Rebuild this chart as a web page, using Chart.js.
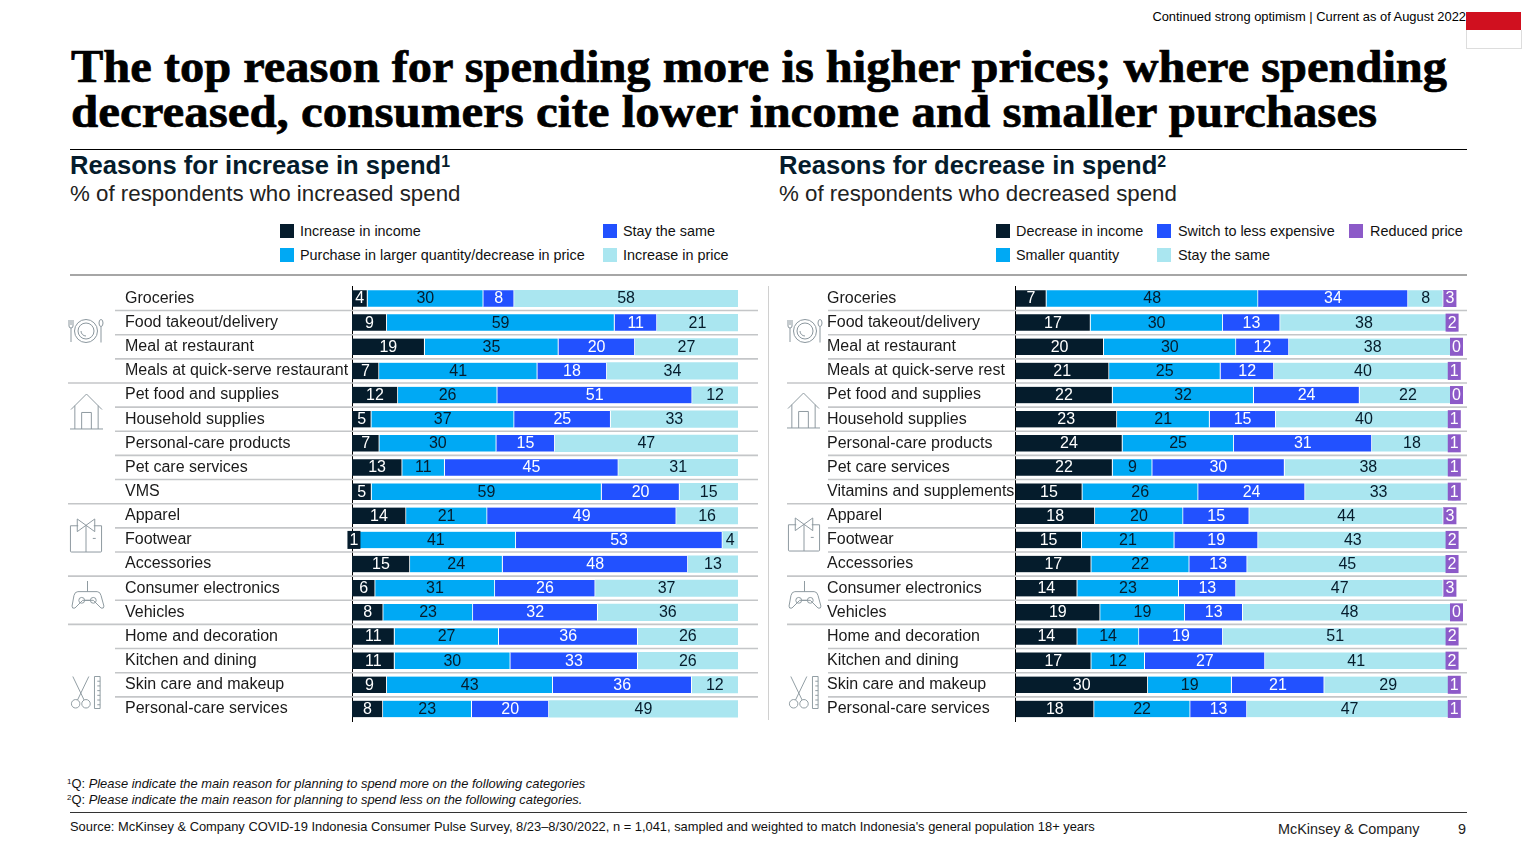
<!DOCTYPE html>
<html>
<head>
<meta charset="utf-8">
<script src="https://cdn.jsdelivr.net/npm/chart.js@4/dist/chart.umd.js"></script>
<style>
html,body{margin:0;padding:0;background:#fff;}
body{width:1536px;height:864px;position:relative;overflow:hidden;font-family:"Liberation Sans",Arial,sans-serif;color:#000;}
.t{position:absolute;white-space:nowrap;line-height:1;}
.r{position:absolute;}
canvas{position:absolute;}
sup{font-size:62%;line-height:0;vertical-align:baseline;position:relative;top:-0.45em;}
.title{left:71px;font-family:"Liberation Serif",serif;font-weight:700;font-size:46.5px;-webkit-text-stroke:0.7px #000;color:#000;transform-origin:left top;}
.h{font-weight:700;font-size:25.6px;color:#051C2C;}
.s{font-size:22.3px;color:#222;}
.lg{font-size:14.4px;color:#111;}
.sw{position:absolute;width:14px;height:14px;}
.fn{font-size:12.9px;font-style:italic;color:#111;}
svg.ic{position:absolute;fill:none;stroke:#8b979e;stroke-width:1;overflow:visible;}
</style>
</head>
<body>
<div class="t" style="right:70px;top:11px;font-size:12.9px;">Continued strong optimism | Current as of August 2022</div>
<div class="r" style="left:1466px;top:12px;width:55px;height:18px;background:#D0101F;"></div>
<div class="r" style="left:1466px;top:30px;width:54px;height:18px;background:#fff;border:1px solid #ddd;border-top:0;"></div>

<div class="t title" style="top:44px;transform:scaleX(1.0416);">The top reason for spending more is higher prices; where spending</div>
<div class="t title" style="top:89px;transform:scaleX(1.052);">decreased, consumers cite lower income and smaller purchases</div>
<div class="r" style="left:70px;top:149px;width:1397px;height:1px;background:#000;"></div>

<div class="t h" style="left:70px;top:153px;">Reasons for increase in spend<sup>1</sup></div>
<div class="t s" style="left:70px;top:183px;">% of respondents who increased spend</div>
<div class="t h" style="left:779px;top:153px;">Reasons for decrease in spend<sup>2</sup></div>
<div class="t s" style="left:779px;top:183px;">% of respondents who decreased spend</div>

<div id="legends"></div>
<div class="r" style="left:70px;top:274px;width:1397px;height:2px;background:#a6a6a6;"></div>
<div class="r" style="left:768px;top:286px;width:1px;height:434px;background:#d0d0d0;"></div>

<svg width="0" height="0" style="position:absolute">
<defs>
<symbol id="plate" viewBox="0 0 36 26" overflow="visible">
  <circle cx="18" cy="13" r="11.5"/><circle cx="18" cy="13" r="8"/><path d="M13 13a5 5 0 0 0 5 5"/>
  <path d="M1 2v6q0 2 2 2v14M3 2v5M5 2v6q0 2-2 2"/><ellipse cx="33" cy="5" rx="2" ry="3.5"/><path d="M33 8.500v16"/>
</symbol>
<symbol id="house" viewBox="0 0 34 38" overflow="visible">
  <path d="M1 17L17 1l16 16"/><path d="M5 13v24M29 13v24"/><path d="M12 37V20h10v17"/><path d="M0 37h34"/>
</symbol>
<symbol id="shirt" viewBox="0 0 34 36" overflow="visible">
  <path d="M1 8h8M25 8h8M1 8v26q0 1 1 1h30q1 0 1-1V8"/><path d="M8 1l18 13V1L8 14z"/><path d="M17 8v27M24 21h3"/>
</symbol>
<symbol id="pad" viewBox="0 0 36 30" overflow="visible">
  <path d="M18 0v11M8 11h20q3 0 4 4l3 11q0 3-3 2l-8-8H13l-8 8q-3 1-3-2l2-11q1-4 4-4z"/><circle cx="12" cy="20" r="3"/><circle cx="24" cy="20" r="3"/><path d="M15 20h6"/>
</symbol>
<symbol id="scis" viewBox="0 0 34 36" overflow="visible">
  <circle cx="6" cy="30" r="4.500"/><circle cx="17" cy="30" r="4.500"/><path d="M8 26L20 1M15 26L3 1"/><path d="M26 1h6v34h-6zM29 6h3M29 11h3M29 16h3M29 21h3M29 26h3M29 31h3"/>
</symbol>
</defs>
</svg>
<svg class="ic" style="left:68px;top:318px;width:36px;height:26px"><use href="#plate"/></svg>
<svg class="ic" style="left:70px;top:393px;width:33px;height:37px"><use href="#house"/></svg>
<svg class="ic" style="left:69px;top:518px;width:34px;height:35px"><use href="#shirt"/></svg>
<svg class="ic" style="left:70px;top:581px;width:35px;height:29px"><use href="#pad"/></svg>
<svg class="ic" style="left:70px;top:675px;width:32px;height:35px"><use href="#scis"/></svg>
<svg class="ic" style="left:787px;top:318px;width:36px;height:26px"><use href="#plate"/></svg>
<svg class="ic" style="left:787px;top:392px;width:33px;height:37px"><use href="#house"/></svg>
<svg class="ic" style="left:787px;top:517px;width:34px;height:35px"><use href="#shirt"/></svg>
<svg class="ic" style="left:787px;top:581px;width:35px;height:29px"><use href="#pad"/></svg>
<svg class="ic" style="left:788px;top:675px;width:32px;height:35px"><use href="#scis"/></svg>

<canvas id="inc" style="left:60px;top:281px;width:700px;height:445px"></canvas>
<canvas id="dec" style="left:770px;top:281px;width:700px;height:445px"></canvas>

<div class="t fn" style="left:67px;top:778px;"><sup style="font-style:normal">1</sup><span style="font-style:normal">Q:</span> Please indicate the main reason for planning to spend more on the following categories</div>
<div class="t fn" style="left:67px;top:794px;"><sup style="font-style:normal">2</sup><span style="font-style:normal">Q:</span> Please indicate the main reason for planning to spend less on the following categories.</div>
<div class="r" style="left:70px;top:812px;width:1397px;height:1px;background:#333;"></div>
<div class="t" style="left:70px;top:821px;font-size:12.9px;color:#111;">Source: McKinsey &amp; Company COVID-19 Indonesia Consumer Pulse Survey, 8/23–8/30/2022, n = 1,041, sampled and weighted to match Indonesia's general population 18+ years</div>
<div class="t" style="left:1278px;top:822px;font-size:14.4px;color:#222;">McKinsey &amp; Company</div>
<div class="t" style="left:1458px;top:822px;font-size:14.4px;color:#222;">9</div>

<script>
const incLabels = ["Groceries","Food takeout/delivery","Meal at restaurant","Meals at quick-serve restaurant","Pet food and supplies","Household supplies","Personal-care products","Pet care services","VMS","Apparel","Footwear","Accessories","Consumer electronics","Vehicles","Home and decoration","Kitchen and dining","Skin care and makeup","Personal-care services"];
const decLabels = ["Groceries","Food takeout/delivery","Meal at restaurant","Meals at quick-serve rest","Pet food and supplies","Household supplies","Personal-care products","Pet care services","Vitamins and supplements","Apparel","Footwear","Accessories","Consumer electronics","Vehicles","Home and decoration","Kitchen and dining","Skin care and makeup","Personal-care services"];

const incSeriesNames = ["Increase in income","Purchase in larger quantity/decrease in price","Stay the same","Increase in price"];
const incIncome   = [4,9,19,7,12,5,7,13,5,14,1,15,6,8,11,11,9,8];
const incQuantity = [30,59,35,41,26,37,30,11,59,21,41,24,31,23,27,30,43,23];
const incSame     = [8,11,20,18,51,25,15,45,20,49,53,48,26,32,36,33,36,20];
const incPrice    = [58,21,27,34,12,33,47,31,15,16,4,13,37,36,26,26,12,49];

const decSeriesNames = ["Decrease in income","Smaller quantity","Switch to less expensive","Stay the same","Reduced price"];
const decIncome   = [7,17,20,21,22,23,24,22,15,18,15,17,14,19,14,17,30,18];
const decQuantity = [48,30,30,25,32,21,25,9,26,20,21,22,23,19,14,12,19,22];
const decSwitch   = [34,13,12,12,24,15,31,30,24,15,19,13,13,13,19,27,21,13];
const decSame     = [8,38,38,40,22,40,18,38,33,44,43,45,47,48,51,41,29,47];
const decReduced  = [3,2,0,1,0,1,1,1,1,3,2,2,3,0,2,2,1,1];

const DARK="#051C2C", CYAN="#00A9F4", BLUE="#2251FF", LIGHT="#AAE6F0", PURPLE="#8C5AC8";
const incColors=[DARK,CYAN,BLUE,LIGHT], incText=["#fff",DARK,"#fff",DARK];
const decColors=[DARK,CYAN,BLUE,LIGHT,PURPLE], decText=["#fff",DARK,"#fff",DARK,"#fff"];
const groupEnds=[3,8,11,13];

function legend(names,colors,places){
  const host=document.getElementById("legends");
  names.forEach((n,i)=>{
    const [x,tx,y]=places[i];
    const s=document.createElement("div");s.className="sw";s.style.cssText=`left:${x}px;top:${y-7}px;background:${colors[i]}`;host.appendChild(s);
    const t=document.createElement("div");t.className="t lg";t.textContent=n;t.style.cssText=`left:${tx}px;top:${y-7}px`;host.appendChild(t);
  });
}
legend(incSeriesNames,incColors,[[280,300,231],[280,300,255],[603,623,231],[603,623,255]]);
legend(decSeriesNames,decColors,[[996,1016,231],[996,1016,255],[1157,1178,231],[1157,1178,255],[1349,1370,231]]);

const rowRules=(lineRight,shortLeft,longLeft)=>({
  id:"rowRules",
  beforeDatasetsDraw(c){
    const y=c.scales.y,ctx=c.ctx;
    ctx.save();ctx.lineWidth=1.6;ctx.strokeStyle="#c4c6c8";
    for(let i=0;i<y.ticks.length-1;i++){
      const yy=(y.getPixelForTick(i)+y.getPixelForTick(i+1))/2;
      ctx.beginPath();ctx.moveTo(groupEnds.includes(i)?longLeft:shortLeft,yy);ctx.lineTo(lineRight,yy);ctx.stroke();
    }
    ctx.restore();
  }
});
const segLabels=(raw,textColors,fills)=>({
  id:"segLabels",
  afterDatasetsDraw(c){
    const ctx=c.ctx;
    ctx.save();ctx.textAlign="center";ctx.textBaseline="middle";ctx.font='16px "Liberation Sans"';
    c.data.datasets.forEach((d,di)=>{
      c.getDatasetMeta(di).data.forEach((b,i)=>{
        const v=raw[di][i],cx=(b.x+b.base)/2,w=Math.abs(b.x-b.base);
        if(w<13){
          ctx.fillStyle=fills[di];
          ctx.fillRect(cx-6.5,b.y-9,13,18);
        }
        ctx.fillStyle=textColors[di];
        ctx.fillText(String(v),cx,b.y+0.5);
      });
    });
    ctx.restore();
  }
});

function build(id,labels,names,raw,colors,textColors,padL,yWidth,padR,rr){
  const totals=labels.map((_,i)=>raw.reduce((s,a)=>s+a[i],0));
  new Chart(document.getElementById(id),{
    type:"bar",
    data:{labels,datasets:names.map((n,di)=>({
      label:n,
      data:raw[di].map((v,i)=>v/totals[i]*100),
      backgroundColor:colors[di],
      borderColor:"#fff",
      borderWidth:{top:0,bottom:0,left:0,right:di===names.length-1?0:1},
      borderSkipped:false,
      barThickness:16.5
    }))},
    options:{
      indexAxis:"y",responsive:false,animation:false,devicePixelRatio:1,
      layout:{padding:{left:padL,right:padR,top:5.4,bottom:5}},
      plugins:{legend:{display:false},tooltip:{enabled:false}},
      scales:{
        x:{stacked:true,min:0,max:100,display:false},
        y:{stacked:true,
           afterFit(s){s.width=yWidth;s.paddingTop=0;s.paddingBottom=0;},
           grid:{display:false},
           border:{display:true,color:"#000",width:1},
           ticks:{crossAlign:"far",padding:0,autoSkip:false,color:"#1a1a1a",font:{family:"Liberation Sans",size:16}}}
      }
    },
    plugins:[rowRules(...rr),segLabels(raw,textColors,colors)]
  });
}
function size(id){const e=document.getElementById(id);e.width=700;e.height=445;}
size("inc");size("dec");
build("inc",incLabels,incSeriesNames,[incIncome,incQuantity,incSame,incPrice],incColors,incText,65,227,22,[698,55,8]);
build("dec",decLabels,decSeriesNames,[decIncome,decQuantity,decSwitch,decSame,decReduced],decColors,decText,57,188.5,13.5,[697,58,17]);
</script>
</body>
</html>
